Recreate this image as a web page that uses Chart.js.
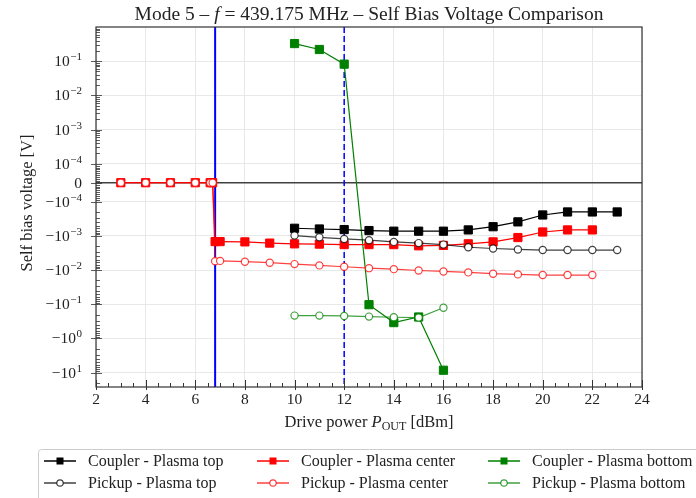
<!DOCTYPE html>
<html>
<head>
<meta charset="utf-8">
<title>Self Bias Voltage Comparison</title>
<script src="https://cdn.jsdelivr.net/npm/chart.js@4.4.1/dist/chart.umd.min.js"></script>
<style>
  html, body { margin: 0; background: #fff; }
  canvas { display: block; }
</style>
</head>
<body>
<canvas id="chart" width="696" height="498"></canvas>
<script>
// drive power steps [dBm]
const powerCenter = [3, 4, 5, 6, 6.6, 6.7, 6.8, 7, 8, 9, 10, 11, 12, 13, 14, 15, 16, 17, 18, 19, 20, 21, 22];
const powerTop = [10, 11, 12, 13, 14, 15, 16, 17, 18, 19, 20, 21, 22, 23];
const powerBottom = [10, 11, 12, 13, 14, 15, 16];

// self bias voltage [V]
const couplerTop = [-6.0e-4, -6.3e-4, -6.55e-4, -7.0e-4, -7.3e-4, -7.3e-4, -7.3e-4, -6.7e-4, -5.4e-4, -3.9e-4, -2.45e-4, -2.0e-4, -2.0e-4, -2.0e-4];
const pickupTop = [-9.8e-4, -1.1e-3, -1.23e-3, -1.34e-3, -1.5e-3, -1.63e-3, -1.8e-3, -2.15e-3, -2.34e-3, -2.5e-3, -2.6e-3, -2.6e-3, -2.6e-3, -2.6e-3];
const couplerCenter = [0, 0, 0, 0, 0, 0, -1.47e-3, -1.47e-3, -1.5e-3, -1.63e-3, -1.71e-3, -1.74e-3, -1.8e-3, -1.8e-3, -1.8e-3, -1.95e-3, -1.9e-3, -1.71e-3, -1.5e-3, -1.12e-3, -7.7e-4, -6.7e-4, -6.7e-4];
const pickupCenter = [0, 0, 0, 0, 0, 0, -5.5e-3, -5.4e-3, -5.7e-3, -6.1e-3, -6.7e-3, -7.3e-3, -8.0e-3, -8.8e-3, -9.4e-3, -1.03e-2, -1.1e-2, -1.17e-2, -1.28e-2, -1.34e-2, -1.4e-2, -1.4e-2, -1.4e-2];
const couplerBottom = [0.328, 0.22, 0.082, -0.103, -0.344, -0.236, -8.5];
const pickupBottom = [-0.215, -0.215, -0.22, -0.23, -0.24, -0.245, -0.126];

// y tick values and x tick step
const yTicks = [1e-1, 1e-2, 1e-3, 1e-4, 0, -1e-4, -1e-3, -1e-2, -1e-1, -1, -10];
const xStep = 2;

// vertical markers [dBm]
const plasmaOnset = 6.8;
const modeLimit = 12;

const SERIF = '"Liberation Serif", "Times New Roman", serif';

// symmetric log transform, linear between -1e-4 and 1e-4
const LINTHRESH = 1e-4;
const LINSCALE = 0.554;
function symlog(v) {
  const a = Math.abs(v);
  if (a <= LINTHRESH) return v / LINTHRESH * LINSCALE;
  return Math.sign(v) * (LINSCALE + Math.log10(a / LINTHRESH));
}
function symexp(t) {
  const a = Math.abs(t);
  if (a <= LINSCALE) return t / LINSCALE * LINTHRESH;
  return Math.sign(t) * LINTHRESH * Math.pow(10, a - LINSCALE);
}

class SymLogScale extends Chart.LinearScale {
  determineDataLimits() {
    this.min = this.options.min;
    this.max = this.options.max;
  }
  buildTicks() {
    return yTicks.map(v => ({ value: v }));
  }
  configure() {
    super.configure();
    this._tMin = symlog(this.min);
    this._tMax = symlog(this.max);
  }
  getPixelForValue(v) {
    return this.getPixelForDecimal((symlog(v) - this._tMin) / (this._tMax - this._tMin));
  }
  getValueForPixel(p) {
    return symexp(this._tMin + this.getDecimalForPixel(p) * (this._tMax - this._tMin));
  }
}
SymLogScale.id = 'symlog';
Chart.register(SymLogScale);

function pts(xs, ys) {
  return xs.map((x, i) => ({ x: x, y: ys[i] }));
}

function coupler(label, xs, ys, color) {
  return {
    label, data: pts(xs, ys), order: 2,
    borderColor: color, backgroundColor: color, borderWidth: 1.2,
    pointStyle: 'rect', pointRadius: 5.8, pointBorderWidth: 1,
    pointBackgroundColor: color, pointBorderColor: color
  };
}
function pickup(label, xs, ys, color) {
  return {
    label, data: pts(xs, ys), order: 1,
    borderColor: color, backgroundColor: '#fff', borderWidth: 1.2,
    pointStyle: 'circle', pointRadius: 3.6, pointBorderWidth: 1.2,
    pointBackgroundColor: '#fff', pointBorderColor: color
  };
}

const datasets = [
  coupler('Coupler - Plasma top', powerTop, couplerTop, '#000000'),
  pickup('Pickup - Plasma top', powerTop, pickupTop, 'rgba(0,0,0,0.75)'),
  coupler('Coupler - Plasma center', powerCenter, couplerCenter, '#ff0000'),
  pickup('Pickup - Plasma center', powerCenter, pickupCenter, 'rgba(255,0,0,0.75)'),
  coupler('Coupler - Plasma bottom', powerBottom, couplerBottom, '#008000'),
  pickup('Pickup - Plasma bottom', powerBottom, pickupBottom, 'rgba(0,128,0,0.75)')
];

// text made of runs with their own font and baseline shift
function drawRuns(ctx, runs, cx, baseline) {
  let total = 0;
  runs.forEach(r => { ctx.font = r.font; r.w = ctx.measureText(r.text).width; total += r.w; });
  let x = cx - total / 2;
  ctx.textAlign = 'left';
  ctx.textBaseline = 'alphabetic';
  runs.forEach(r => {
    ctx.font = r.font;
    ctx.fillText(r.text, x, baseline + (r.dy || 0));
    x += r.w;
  });
}

function drawPow(ctx, xr, yc, v) {
  ctx.textAlign = 'right';
  ctx.textBaseline = 'alphabetic';
  if (v === 0) {
    ctx.font = '15.5px ' + SERIF;
    ctx.fillText('0', xr, yc + 5);
    return;
  }
  const e = Math.round(Math.log10(Math.abs(v)));
  const expStr = (e < 0 ? '\u2212' : '') + Math.abs(e);
  ctx.font = '11px ' + SERIF;
  const ew = ctx.measureText(expStr).width;
  ctx.fillText(expStr, xr, yc - 1);
  ctx.font = '15.5px ' + SERIF;
  ctx.fillText((v < 0 ? '\u2212' : '') + '10', xr - ew - 0.5, yc + 5);
}

const decor = {
  id: 'decor',
  beforeDatasetsDraw(chart) {
    const { ctx, chartArea: a, scales: { x, y } } = chart;
    ctx.save();
    // zero line
    const y0 = y.getPixelForValue(0);
    ctx.strokeStyle = '#404040';
    ctx.lineWidth = 1.5;
    ctx.beginPath(); ctx.moveTo(a.left, y0); ctx.lineTo(a.right, y0); ctx.stroke();
    // vertical markers
    ctx.strokeStyle = '#0000ff';
    ctx.lineWidth = 2;
    let px = x.getPixelForValue(plasmaOnset);
    ctx.beginPath(); ctx.moveTo(px, a.top); ctx.lineTo(px, a.bottom); ctx.stroke();
    ctx.lineWidth = 1.5;
    ctx.setLineDash([6, 3]);
    px = x.getPixelForValue(modeLimit);
    ctx.beginPath(); ctx.moveTo(px, a.top); ctx.lineTo(px, a.bottom); ctx.stroke();
    ctx.restore();
  },
  afterDraw(chart) {
    const { ctx, chartArea: a, scales: { x, y } } = chart;
    ctx.save();

    // frame
    ctx.strokeStyle = '#333';
    ctx.lineWidth = 1.2;
    ctx.strokeRect(a.left, a.top, a.right - a.left, a.bottom - a.top);

    // y ticks, major and minor, pointing in
    ctx.lineWidth = 1;
    ctx.beginPath();
    yTicks.forEach(v => {
      const py = Math.round(y.getPixelForValue(v)) + 0.5;
      ctx.moveTo(a.left - 5, py); ctx.lineTo(a.left + 6, py);
    });
    const minor = [];
    for (let k = -4; k <= 1; k++) {
      for (let m = 2; m <= 9; m++) {
        const v = m * Math.pow(10, k);
        if (v < y.max) minor.push(v);
        if (-v > y.min) minor.push(-v);
      }
    }
    for (let m = 1; m <= 9; m++) minor.push(m * 1e-5, -m * 1e-5);
    ctx.lineWidth = 0.8;
    minor.forEach(v => {
      const py = Math.round(y.getPixelForValue(v)) + 0.5;
      ctx.moveTo(a.left, py); ctx.lineTo(a.left + 4, py);
    });
    ctx.stroke();

    // x ticks
    ctx.beginPath();
    ctx.lineWidth = 1;
    for (let v = x.min; v <= x.max + 1e-9; v += 0.5) {
      const ppx = Math.round(x.getPixelForValue(v)) + 0.5;
      const major = Math.abs(v / xStep - Math.round(v / xStep)) < 1e-9;
      ctx.moveTo(ppx, a.bottom + (major ? 3 : 0));
      ctx.lineTo(ppx, a.bottom - (major ? 7 : 4));
    }
    ctx.stroke();

    // y tick labels
    ctx.fillStyle = '#222';
    yTicks.forEach(v => drawPow(ctx, 82, y.getPixelForValue(v), v));

    // title
    drawRuns(ctx, [
      { text: 'Mode 5 \u2013 ', font: '19.5px ' + SERIF },
      { text: 'f', font: 'italic 19.5px ' + SERIF },
      { text: ' = 439.175 MHz \u2013 Self Bias Voltage Comparison', font: '19.5px ' + SERIF }
    ], (a.left + a.right) / 2, 19.5);

    // x axis title
    drawRuns(ctx, [
      { text: 'Drive power ', font: '16.5px ' + SERIF },
      { text: 'P', font: 'italic 16.5px ' + SERIF },
      { text: 'OUT', font: '12px ' + SERIF, dy: 3 },
      { text: ' [dBm]', font: '16.5px ' + SERIF }
    ], (a.left + a.right) / 2, 427);

    // y axis title
    ctx.save();
    ctx.translate(32, (a.top + a.bottom) / 2 - 4);
    ctx.rotate(-Math.PI / 2);
    ctx.font = '16.5px ' + SERIF;
    ctx.textAlign = 'center';
    ctx.textBaseline = 'alphabetic';
    ctx.fillText('Self bias voltage [V]', 0, 0);
    ctx.restore();

    // legend: couplers on the first row, pickups on the second
    ctx.strokeStyle = '#cccccc';
    ctx.lineWidth = 1;
    ctx.fillStyle = 'rgba(255,255,255,0.8)';
    ctx.beginPath();
    ctx.roundRect(38.5, 449.5, 700, 80, 3);
    ctx.fill();
    ctx.stroke();
    const colX = [44, 257, 488];
    const rowY = [461, 483];
    chart.data.datasets.forEach((ds, i) => {
      const lx = colX[Math.floor(i / 2)];
      const ly = rowY[i % 2];
      ctx.strokeStyle = ds.borderColor;
      ctx.lineWidth = 1.5;
      ctx.beginPath(); ctx.moveTo(lx, ly); ctx.lineTo(lx + 32, ly); ctx.stroke();
      const mx = lx + 16;
      ctx.lineWidth = 1.2;
      if (ds.pointStyle === 'rect') {
        ctx.fillStyle = ds.pointBackgroundColor;
        ctx.fillRect(mx - 3.5, ly - 3.5, 7, 7);
      } else {
        ctx.fillStyle = '#fff';
        ctx.strokeStyle = ds.pointBorderColor;
        ctx.beginPath(); ctx.arc(mx, ly, 3.2, 0, Math.PI * 2); ctx.fill(); ctx.stroke();
      }
      ctx.fillStyle = '#222';
      ctx.font = '16px ' + SERIF;
      ctx.textAlign = 'left';
      ctx.textBaseline = 'alphabetic';
      ctx.fillText(ds.label, lx + 44, ly + 5);
    });

    ctx.restore();
  }
};

new Chart(document.getElementById('chart'), {
  type: 'line',
  data: { datasets },
  options: {
    responsive: false,
    animation: false,
    devicePixelRatio: 1,
    layout: { padding: { top: 27, right: 54, left: 0, bottom: 0 } },
    plugins: { legend: { display: false }, tooltip: { enabled: false } },
    elements: { line: { tension: 0 } },
    scales: {
      x: {
        type: 'linear', min: 2, max: 24,
        ticks: { stepSize: xStep, color: '#222', padding: 4, font: { family: SERIF, size: 15.5 } },
        grid: { color: '#e8e8e8', drawTicks: false },
        border: { display: false },
        afterFit: s => { s.height = 111; }
      },
      y: {
        type: 'symlog', min: -26.3, max: 1,
        ticks: { display: false, autoSkip: false },
        grid: { color: '#e8e8e8', drawTicks: false },
        border: { display: false },
        afterFit: s => { s.width = 96; }
      }
    }
  },
  plugins: [decor]
});
</script>
</body>
</html>
